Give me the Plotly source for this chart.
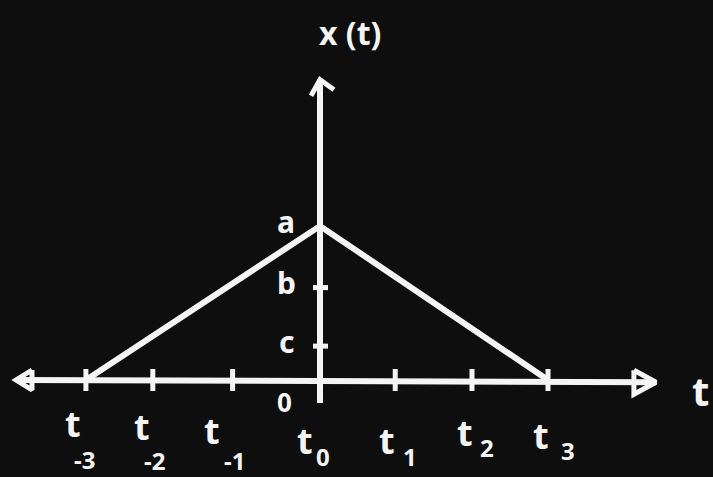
import plotly.graph_objects as go

# Tick positions along the time axis (sketch spacing, not perfectly even)
t_subs = ["-3", "-2", "-1", "0", "1", "2", "3"]
t_positions = [-3.08, -2.2, -1.15, 0.0, 0.99, 2.0, 3.0]

# Amplitude levels on the x(t) axis
level_names = ["a", "b", "c"]
level_values = [1.0, 0.6, 0.22]

# Triangular pulse: rises from t_-3 to peak a at t_0, falls to zero at t_3
pulse_t = [t_positions[0], t_positions[3], t_positions[6]]
pulse_x = [0.0, level_values[0], 0.0]

# Axis extents
x_axis_ends = [-4.0, 4.42]
y_axis_ends = [-0.15, 1.95]

# pixel-to-data factors (plot fills the whole 713x477 canvas)
PX = 1 / 76.0
PY = 1 / 154.0

INK = "#f4f4f4"
BG = "#0e0e0e"
W = 6
FONT = "Noto Sans"

fig = go.Figure()


def stroke(xs, ys, width=W):
    fig.add_trace(go.Scatter(x=xs, y=ys, mode="lines",
                             line=dict(color=INK, width=width, shape="linear"),
                             hoverinfo="skip", showlegend=False))


def write(x, y, text, size, dx=0, dy=0):
    fig.add_annotation(x=x + dx * PX, y=y + dy * PY, text=text, showarrow=False,
                       font=dict(family=FONT, size=size, color=INK, weight="bold"))


# horizontal (time) axis
stroke([x_axis_ends[0], x_axis_ends[1]], [0.0, -0.015])
# vertical axis
stroke([0.0, 0.0], [y_axis_ends[0], y_axis_ends[1]])

# arrowheads
lx, rx, ty = x_axis_ends[0], x_axis_ends[1], y_axis_ends[1]
stroke([lx + 16 * PX, lx, lx + 16 * PX, lx + 16 * PX], [10 * PY, 0, -10 * PY, 10 * PY], width=5)
stroke([rx - 22 * PX, rx, rx - 22 * PX, rx - 22 * PX],
       [12 * PY - 0.015, -0.015, -12 * PY - 0.015, 12 * PY - 0.015], width=5)
stroke([-9 * PX, 0, 14 * PX], [ty - 16 * PY, ty, ty - 10 * PY], width=5)

# tick marks on the time axis
for tp in t_positions:
    if tp == 0.0:
        continue
    stroke([tp, tp], [-11 * PY, 11 * PY], width=5)

# tick marks on the amplitude axis (b and c)
for lv in level_values[1:]:
    stroke([-7 * PX, 8 * PX], [lv, lv], width=5)

# the pulse
stroke(pulse_t, pulse_x, width=6)

# time labels: letter t with its index written below/right of it (pixel offsets)
t_dx = [-13, -11, -21, -15, -8, -7, -7]
t_dy = [-43, -46, -50, -60, -60, -52, -55]
sub_dx = [-1, 2, 2, 3, 15, 15, 20]
sub_dy = [-79, -80, -80, -76, -76, -67, -70]
for sub, tp, tdx, tdy, sdx, sdy in zip(t_subs, t_positions, t_dx, t_dy, sub_dx, sub_dy):
    write(tp, 0, "t", 36, dx=tdx, dy=tdy)
    write(tp, 0, sub, 24, dx=sdx, dy=sdy)

# amplitude labels
for name, lv in zip(level_names, level_values):
    write(0, lv, name, 30, dx=-34, dy=5)

write(0, 0, "0", 26, dx=-36, dy=-22)
write(0, 0, "t", 40, dx=380, dy=-10)
write(0, 0, "x (t)", 32, dx=30, dy=348)

fig.update_layout(
    width=713, height=477,
    margin=dict(l=0, r=0, t=0, b=0),
    paper_bgcolor=BG, plot_bgcolor=BG,
    xaxis=dict(range=[-320 * PX, 393 * PX], visible=False, fixedrange=True),
    yaxis=dict(range=[-97 * PY, 380 * PY], visible=False, fixedrange=True),
    showlegend=False,
)

fig.write_html("out.html")
